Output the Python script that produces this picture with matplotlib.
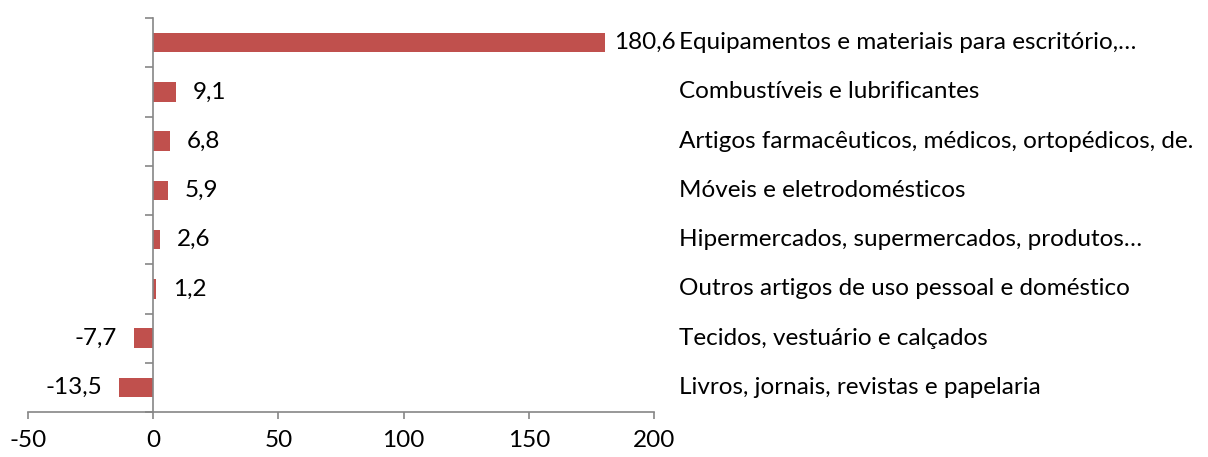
import numpy as np
import matplotlib.pyplot as plt
from matplotlib.transforms import blended_transform_factory

plt.rcParams['font.family'] = ['Lato', 'DejaVu Sans']

categorias = [
    "Equipamentos e materiais para escritório,…",
    "Combustíveis e lubrificantes",
    "Artigos farmacêuticos, médicos, ortopédicos, de.",
    "Móveis e eletrodomésticos",
    "Hipermercados, supermercados, produtos…",
    "Outros artigos de uso pessoal e doméstico",
    "Tecidos, vestuário e calçados",
    "Livros, jornais, revistas e papelaria",
]
valores = [180.6, 9.1, 6.8, 5.9, 2.6, 1.2, -7.7, -13.5]
xticks = [-50, 0, 50, 100, 150, 200]

cor_barra = "#C0504D"
cor_eixo = "#868686"
fs = 17.5

fig = plt.figure(figsize=(12.08, 4.57), dpi=100)
ax = fig.add_axes([28 / 1208, 45 / 457, 626 / 1208, 394 / 457])

n = len(categorias)
y = np.arange(n)[::-1]
barras = ax.barh(y, valores, height=0.4, color=cor_barra, zorder=2)

ax.set_xlim(-50, 200)
ax.set_ylim(-0.5, n - 0.5)
ax.set_xticks(xticks)
ax.set_xticklabels([str(t) for t in xticks], fontsize=fs)
ax.tick_params(axis="x", length=5, color=cor_eixo, pad=8)

# eixo vertical passando no zero
ax.spines["left"].set_position(("data", 0))
for s in ["top", "right"]:
    ax.spines[s].set_visible(False)
for s in ["left", "bottom"]:
    ax.spines[s].set_color(cor_eixo)
    ax.spines[s].set_linewidth(1.2)
ax.set_yticks(np.arange(n + 1) - 0.5)
ax.set_yticklabels([])
ax.tick_params(axis="y", length=6, color=cor_eixo, width=1.2)
ax.tick_params(axis="x", width=1.2)

# rótulos de valor
for b, v in zip(barras, valores):
    pad = 6 if v > 100 else 12
    txt = f"{v:.1f}".replace(".", ",")
    ax.annotate(txt, (v, b.get_y() + b.get_height() / 2),
                xytext=(pad if v >= 0 else -pad, 0), textcoords="offset points",
                ha="left" if v >= 0 else "right", va="center", fontsize=fs)

# nomes das categorias à direita
trans = blended_transform_factory(ax.transAxes, ax.transData)
for yi, c in zip(y, categorias):
    ax.annotate(c, (1, yi), xycoords=trans, xytext=(18, 0),
                textcoords="offset points", ha="left", va="center",
                fontsize=fs, annotation_clip=False)

fig.savefig("out.png", dpi=100)
